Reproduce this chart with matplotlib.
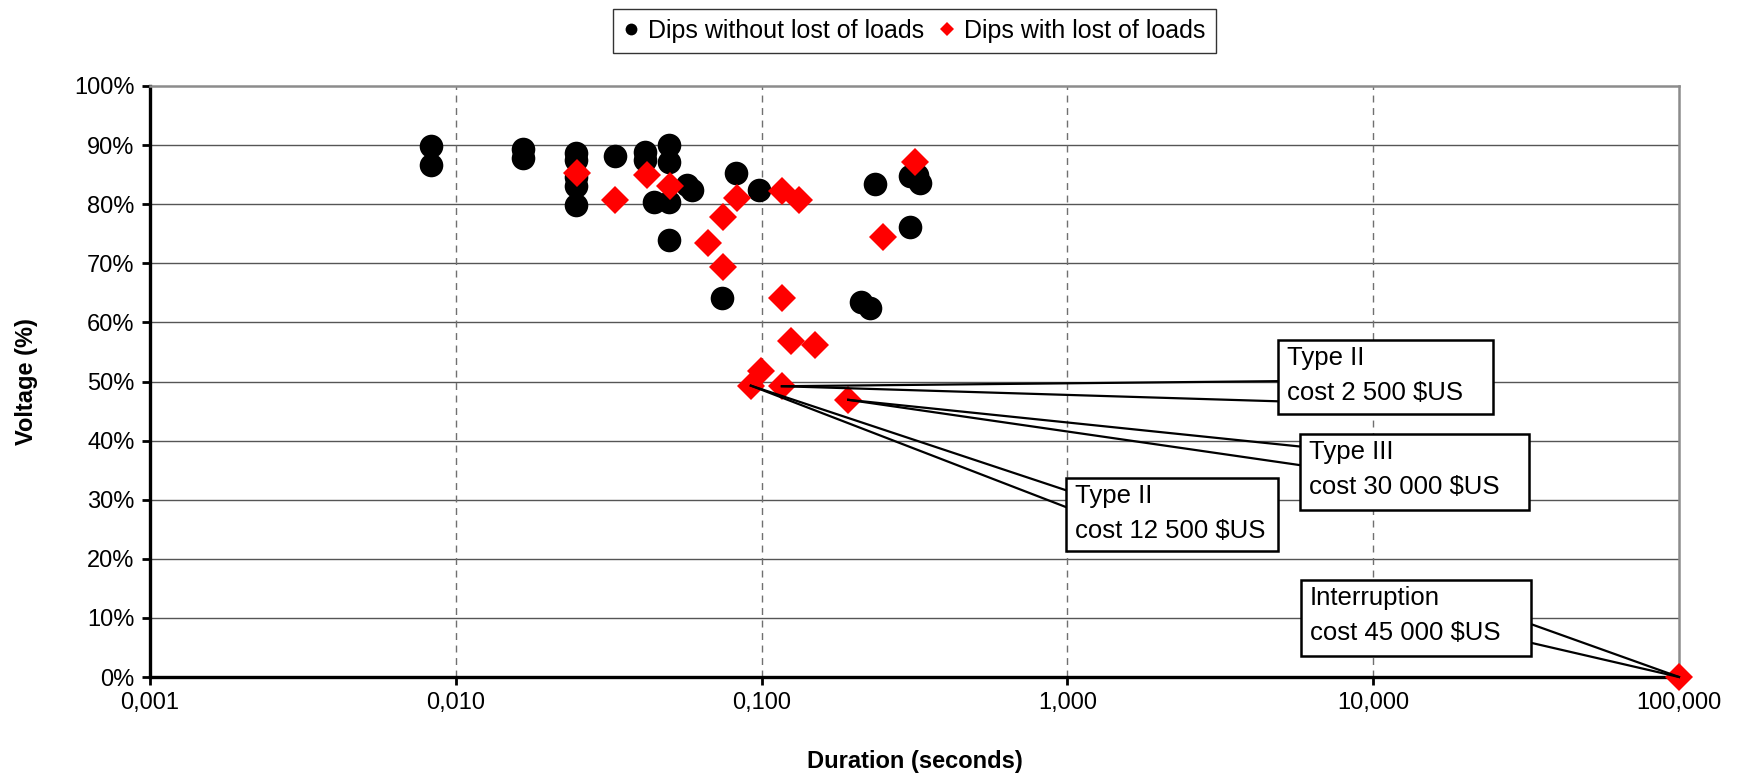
import matplotlib
matplotlib.use("Agg")
from matplotlib import pyplot as plt
from matplotlib.patches import Rectangle

plt.rcParams['font.family'] = ['Liberation Sans', 'DejaVu Sans']

# dips that did not trip any load (duration s, voltage %)
no_loss_dur = [0.0083, 0.0083, 0.0166, 0.0166, 0.0248, 0.0248, 0.0248, 0.0248, 0.0248,
               0.0331, 0.0417, 0.0417, 0.0445, 0.0497, 0.0497, 0.0497, 0.0497,
               0.057, 0.059, 0.0741, 0.0824, 0.0982, 0.212, 0.226, 0.234,
               0.305, 0.322, 0.329, 0.305]
no_loss_volt = [89.8, 86.7, 89.4, 87.9, 88.6, 87.5, 84.6, 83.0, 79.8,
                88.2, 88.9, 87.4, 80.4, 90.0, 87.2, 80.4, 73.9,
                83.2, 82.4, 64.2, 85.2, 82.4, 63.5, 62.4, 83.5,
                84.7, 85.0, 83.6, 76.2]

# dips that caused loss of loads
loss_dur = [0.0249, 0.0331, 0.0421, 0.0501, 0.067, 0.0746, 0.0746, 0.0829,
            0.1164, 0.1327, 0.1165, 0.249, 0.318, 0.125, 0.150, 0.0997,
            0.0922, 0.1165, 0.192, 100.0]
loss_volt = [85.3, 80.7, 84.9, 83.0, 73.4, 77.9, 69.4, 81.0,
             82.2, 80.7, 64.1, 74.4, 87.2, 56.9, 56.1, 51.8,
             49.3, 49.2, 46.9, 0.0]

x_ticks = [0.001, 0.01, 0.1, 1, 10, 100]
x_labels = ["0,001", "0,010", "0,100", "1,000", "10,000", "100,000"]
y_ticks = [0, 10, 20, 30, 40, 50, 60, 70, 80, 90, 100]
y_labels = ["%d%%" % v for v in y_ticks]

# callouts: (line 1, line 2, index of the dip in loss_* they point at)
callouts = [("Type II", "cost 2 500 $US", 17),
            ("Type III", "cost 30 000 $US", 18),
            ("Type II", "cost 12 500 $US", 16),
            ("Interruption", "cost 45 000 $US", 19)]
# box (x0, y0, x1, y1) and the two attach points of the wedge, axes fraction
boxes = [(0.7377, 0.445, 0.8784, 0.570),
         (0.7521, 0.2826, 0.9019, 0.411),
         (0.5991, 0.2132, 0.7377, 0.3367),
         (0.7526, 0.0355, 0.9030, 0.164)]
attach = [((0.7377, 0.5006), (0.7377, 0.4665)),
          ((0.7521, 0.390), (0.7521, 0.3585)),
          ((0.5991, 0.316), (0.5991, 0.2875)),
          ((0.9030, 0.0897), (0.9030, 0.058))]

FS = 17

fig = plt.figure(figsize=(17.44, 7.75), dpi=100)
ax = fig.add_axes([150/1744, 1 - 677/775, 1529/1744, 591/775])

ax.set_xscale("log")
ax.set_xlim(0.001, 100)
ax.set_ylim(0, 100)

ax.plot(no_loss_dur, no_loss_volt, "o", color="black", markersize=17,
        markeredgewidth=0, zorder=3, label="Dips without lost of loads")
ax.plot(loss_dur, loss_volt, "D", color="#ff0000", markersize=14,
        markeredgewidth=0, zorder=4, label="Dips with lost of loads", clip_on=False)

ax.set_xticks(x_ticks)
ax.set_xticklabels(x_labels)
ax.minorticks_off()
ax.set_yticks(y_ticks)
ax.set_yticklabels(y_labels)
ax.tick_params(axis="both", labelsize=FS, direction="out", length=6, width=2, pad=5)

# grid
for v in y_ticks[1:-1]:
    ax.axhline(v, color="#555555", lw=1.0, zorder=1)
for v in x_ticks[1:-1]:
    ax.axvline(v, color="#707070", lw=1.0, dashes=(5, 4), zorder=1)

for s in ["left", "bottom"]:
    ax.spines[s].set_linewidth(2.4)
    ax.spines[s].set_color("black")
for s in ["top", "right"]:
    ax.spines[s].set_linewidth(1.8)
    ax.spines[s].set_color("#8c8c8c")

ax.set_xlabel("Duration (seconds)", fontsize=FS, fontweight="bold", labelpad=26)
ax.set_ylabel("Voltage (%)", fontsize=FS, fontweight="bold", labelpad=26)

# callout boxes with wedge leaders
to_data = lambda p: (10 ** (-3 + 5 * p[0]), 100 * p[1])
for (l1, l2, idx), (x0, y0, x1, y1), (a, b) in zip(callouts, boxes, attach):
    px, py = loss_dur[idx], loss_volt[idx]
    for p in (a, b):
        qx, qy = to_data(p)
        ax.plot([px, qx], [py, qy], color="black", lw=1.6, zorder=5, clip_on=False)
    ax.add_patch(Rectangle((x0, y0), x1 - x0, y1 - y0, transform=ax.transAxes,
                           facecolor="white", edgecolor="black", lw=1.8, zorder=6))
    ax.text(x0 + 0.006, y1 - 0.031, l1, transform=ax.transAxes, fontsize=18.5,
            va="center", ha="left", zorder=7)
    ax.text(x0 + 0.006, y1 - 0.089, l2, transform=ax.transAxes, fontsize=18.5,
            va="center", ha="left", zorder=7)

leg = fig.legend(handles=ax.get_lines()[:2], loc="center", ncol=2,
                 bbox_to_anchor=(0.5244, 1 - 31/775), bbox_transform=fig.transFigure,
                 fontsize=18, frameon=True, fancybox=False, handlelength=0.6,
                 handletextpad=0.4, columnspacing=0.6, borderpad=0.4, markerscale=0.5)
leg.get_frame().set_edgecolor("black")
leg.get_frame().set_linewidth(1.0)

fig.savefig("out.png", dpi=100)
